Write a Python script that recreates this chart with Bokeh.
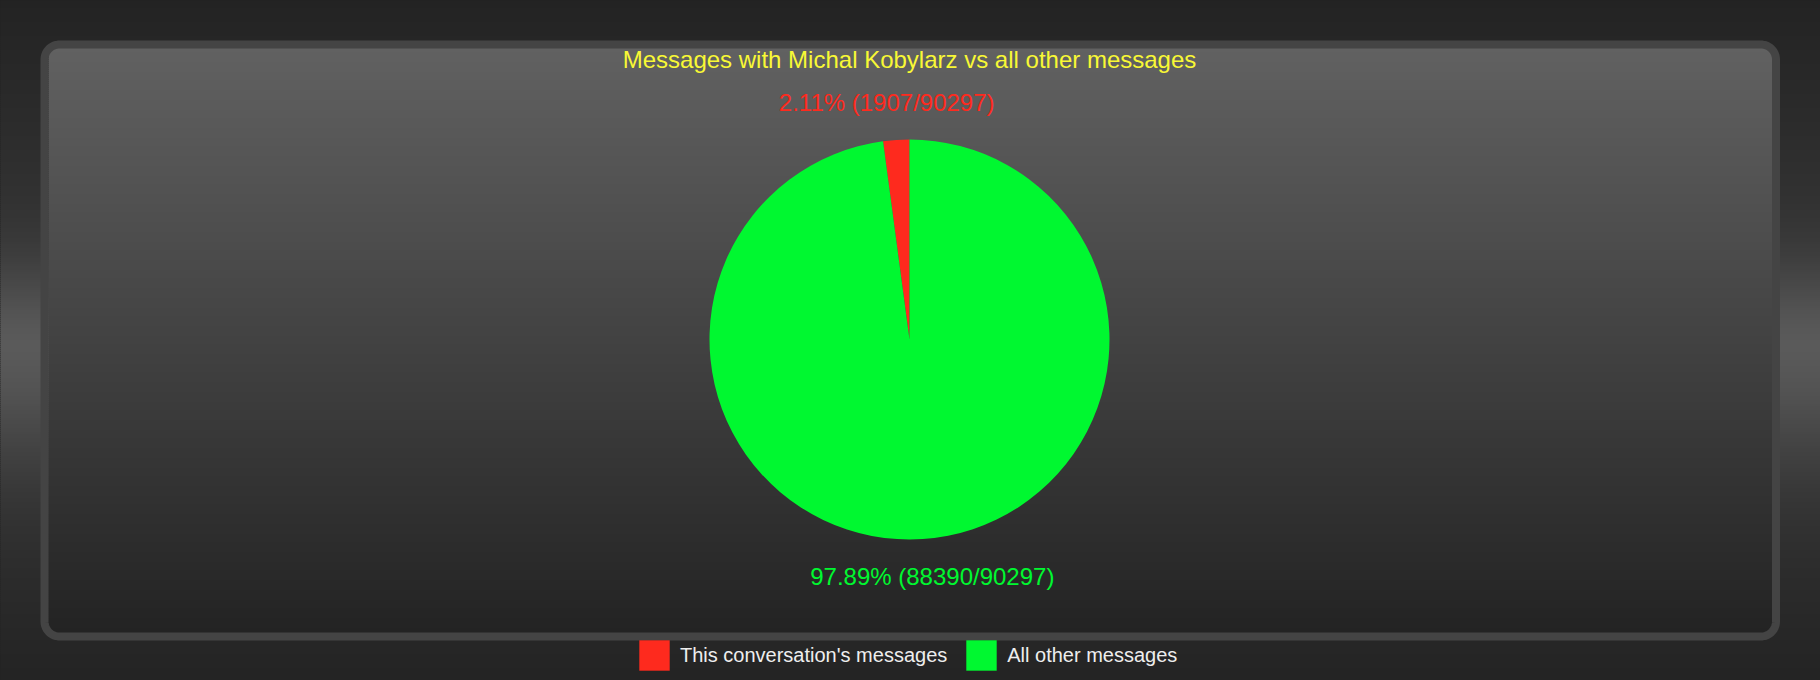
import numpy as np
from bokeh.plotting import figure
from bokeh.models import ColumnDataSource, Range1d
from bokeh.core.properties import value
from bokeh.embed import file_html
from bokeh.resources import INLINE

# ---------------- data ----------------
title_text = "Messages with Michal Kobylarz vs all other messages"
categories = ["This conversation's messages", "All other messages"]
counts = [1907, 88390]
colors = ["#fe2a1e", "#00f830"]

# ---------------- layout / style ----------------
W, H = 1820, 680
FONT = "Liberation Sans"

p = figure(width=W, height=H, x_range=Range1d(0, W), y_range=Range1d(0, H),
           output_backend="svg", toolbar_location=None, min_border=0,
           x_axis_type=None, y_axis_type=None)
p.grid.visible = False
p.outline_line_color = None
p.background_fill_color = "#232323"
p.border_fill_color = "#232323"


def sy(y):
    """screen y (down) -> data y (up)"""
    return H - np.asarray(y, dtype=float)


def grey(v):
    v = int(round(max(0, min(255, v))))
    return "#%02x%02x%02x" % (v, v, v)


# page background: dark with a soft horizontal glow through the middle
ys = np.arange(0, H, 2)
yc = ys + 1.0
tent = np.clip(1 - np.abs(yc - 345) / 345.0, 0, 1)
sig = np.where(yc < 345, 80.0, 120.0)
spike = np.exp(-((yc - 345) / sig) ** 2)
bg_cols = [grey(35 + 24 * t + 31 * s) for t, s in zip(tent, spike)]
p.quad(left=-5, right=W + 5, top=sy(ys) + 0.6, bottom=sy(ys + 2) - 0.6,
       fill_color=bg_cols, line_color=None)

# panel gradient (inner area)
px0, px1, py0, py1 = 48, 1772, 48, 632
pys = np.arange(py0, py1, 2)
frac = (pys + 1.0 - py0) / (py1 - py0)
pan_cols = [grey(0x61 + (0x23 - 0x61) * f) for f in frac]
p.quad(left=px0, right=px1, top=sy(pys) + 0.6, bottom=sy(np.minimum(pys + 2, py1)) - 0.6,
       fill_color=pan_cols, line_color=None)

# rounded border
bx0, bx1, by0, by1, rr = 44, 1775.5, 44, 636, 15
pts_x, pts_y = [], []
for (cx_, cy_, a0) in [(bx1 - rr, by0 + rr, -90), (bx1 - rr, by1 - rr, 0),
                       (bx0 + rr, by1 - rr, 90), (bx0 + rr, by0 + rr, 180)]:
    a = np.radians(np.linspace(a0, a0 + 90, 16))
    pts_x.extend(cx_ + rr * np.cos(a))
    pts_y.extend(cy_ + rr * np.sin(a))
p.patch(x=pts_x, y=list(sy(pts_y)), fill_color=None, line_color="#444444", line_width=8)

# ---------------- pie ----------------
cx, cy_screen, r = 909, 339, 200
cy = float(sy(cy_screen))
cnt = np.array(counts, dtype=float)
total = int(cnt.sum())
fr = cnt / total
start = np.pi / 2 + 2 * np.pi * np.concatenate([[0], np.cumsum(fr)[:-1]])
end = start + 2 * np.pi * fr
mid = (start + end) / 2
labels = ["%.2f%% (%d/%d)" % (f * 100, c, total) for f, c in zip(fr, counts)]

src = ColumnDataSource(dict(category=categories, start=start, end=end, color=colors,
                            lx=cx + np.cos(mid) * 1.72 * r,
                            ly=cy + np.sin(mid) * 1.19 * r,
                            label=labels))
p.wedge(x=cx, y=cy, radius=r, start_angle="start", end_angle="end",
        fill_color="color", line_color=None, source=src, legend_field="category")

p.text(x="lx", y="ly", text="label", text_color="color", source=src,
       text_font=value(FONT), text_font_size="24px",
       text_align="center", text_baseline="middle")

# title
p.text(x=[cx], y=[float(sy(59))], text=[title_text], text_color="#f8f835",
       text_font=value(FONT), text_font_size="24px",
       text_align="center", text_baseline="middle")

# ---------------- legend ----------------
lg = p.legend[0]
lg.location = (635, 6)
lg.orientation = "horizontal"
lg.glyph_width = 38
lg.glyph_height = 38
lg.label_standoff = 7
lg.spacing = 15
lg.padding = 0
lg.margin = 0
lg.background_fill_alpha = 0
lg.border_line_color = None
lg.label_text_font = FONT
lg.label_text_font_size = "20px"
lg.label_text_color = "#eeeeee"
lg.label_height = 38

html = file_html(p, INLINE)
html = html.replace("<head>", "<head><style>html,body{margin:0;padding:0;background:#232323;overflow:hidden}</style>", 1)
open("out.html", "w").write(html)
